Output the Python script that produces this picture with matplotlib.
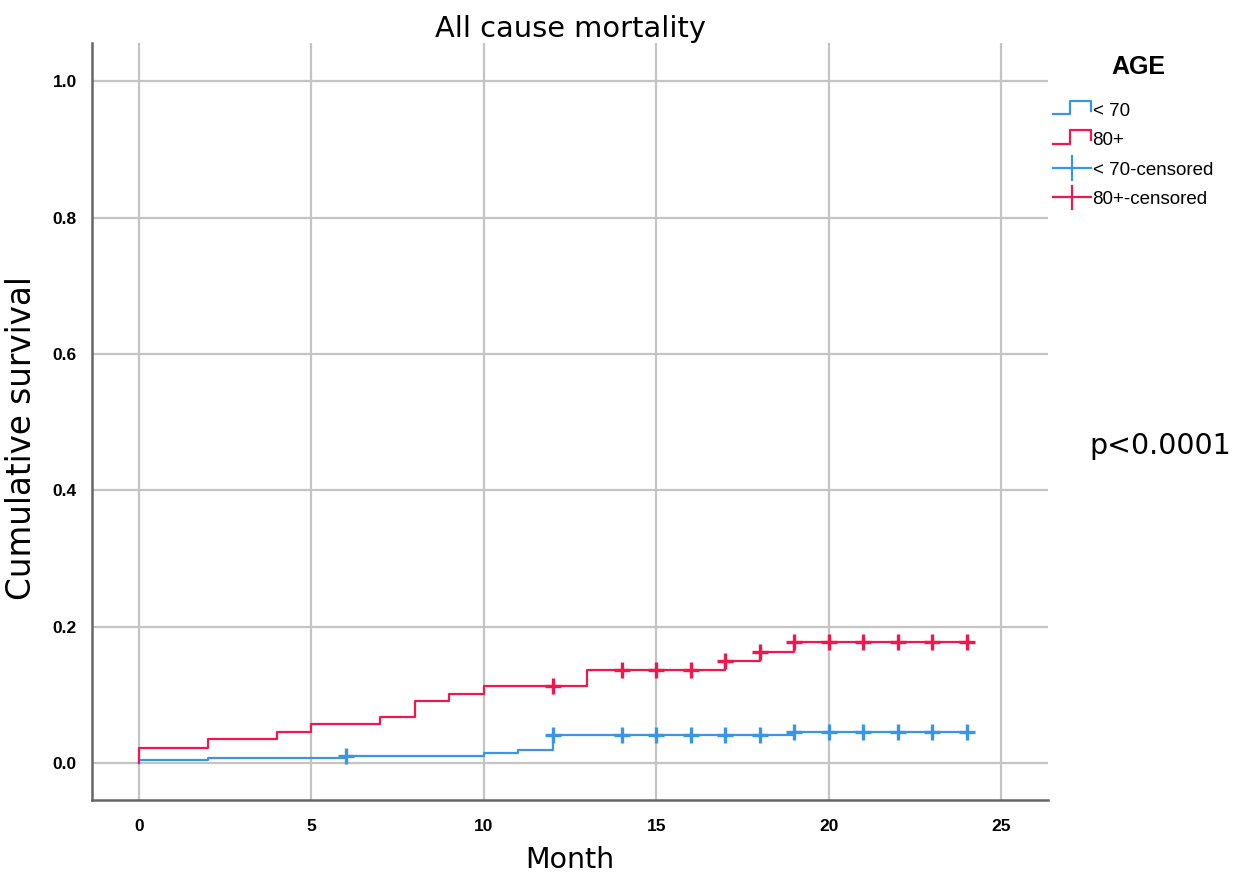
import numpy as np
import matplotlib
matplotlib.use("Agg")
import matplotlib.pyplot as plt
from matplotlib.legend_handler import HandlerBase
from matplotlib.lines import Line2D

# step curves: event times and cumulative values after each step
red_times = [0, 0, 2, 4, 5, 7, 8, 9, 10, 13, 17, 18, 19, 24]
red_vals = [0.0, 0.023, 0.035, 0.046, 0.057, 0.068, 0.091, 0.101, 0.113, 0.137, 0.150, 0.163, 0.177, 0.177]
blue_times = [0, 0, 2, 6, 10, 11, 12, 19, 24]
blue_vals = [0.0, 0.004, 0.008, 0.011, 0.015, 0.019, 0.042, 0.046, 0.046]

# censored marks
red_cens_t = [12, 14, 15, 16, 17, 18, 19, 20, 21, 22, 23, 24]
red_cens_v = [0.113, 0.137, 0.137, 0.137, 0.150, 0.163, 0.177, 0.177, 0.177, 0.177, 0.177, 0.177]
blue_cens_t = [6, 12, 14, 15, 16, 17, 18, 19, 20, 21, 22, 23, 24]
blue_cens_v = [0.011, 0.042, 0.042, 0.042, 0.042, 0.042, 0.042, 0.046, 0.046, 0.046, 0.046, 0.046, 0.046]

legend_labels = ["< 70", "80+", "< 70-censored", "80+-censored"]

RED = "#f0174d"
BLUE = "#3a95e6"

tick_font = "Liberation Sans Narrow"
try:
    from matplotlib import font_manager
    font_manager.findfont(tick_font, fallback_to_default=False)
except Exception:
    tick_font = "Liberation Sans"


class StepHandler(HandlerBase):
    def create_artists(self, legend, orig_handle, xdescent, ydescent,
                       width, height, fontsize, trans):
        x = np.array([0, 0.45, 0.45, 1.0, 1.0]) * width - xdescent
        y = np.array([0.1, 0.1, 0.9, 0.9, 0.3]) * height * 1.3 - ydescent
        ln = Line2D(x, y, color=orig_handle.get_color(), lw=1.6, transform=trans)
        return [ln]


class CrossHandler(HandlerBase):
    def create_artists(self, legend, orig_handle, xdescent, ydescent,
                       width, height, fontsize, trans):
        c = orig_handle.get_color()
        h = Line2D([-xdescent, width - xdescent], [height / 2 - ydescent] * 2,
                   color=c, lw=1.6, transform=trans)
        v = Line2D([width / 2 - xdescent] * 2, [-0.4 * height - ydescent, 1.4 * height - ydescent],
                   color=c, lw=1.6, transform=trans)
        return [h, v]


fig = plt.figure(figsize=(12.44, 8.73), dpi=100)
ax = fig.add_axes([0.074, 0.0836, 0.7684, 0.8671])

ax.step(blue_times, blue_vals, where="post", color=BLUE, lw=1.6)
ax.step(red_times, red_vals, where="post", color=RED, lw=1.6)
ax.plot(blue_cens_t, blue_cens_v, ls="none", marker="+", ms=12, mew=2.4, color=BLUE)
ax.plot(red_cens_t, red_cens_v, ls="none", marker="+", ms=12, mew=2.4, color=RED)

ax.set_xlim(-1.36, 26.36)
ax.set_ylim(-0.054, 1.056)
ax.set_xticks([0, 5, 10, 15, 20, 25])
ax.set_yticks([0.0, 0.2, 0.4, 0.6, 0.8, 1.0])
ax.set_yticklabels(["0.0", "0.2", "0.4", "0.6", "0.8", "1.0"])
ax.grid(True, color="#c4c4c4", lw=1.6)
ax.set_axisbelow(True)
ax.tick_params(axis="x", length=0, pad=14)
ax.tick_params(axis="y", length=0, pad=11)
for lab in ax.get_xticklabels() + ax.get_yticklabels():
    lab.set_fontfamily(tick_font)
    lab.set_fontweight("bold")
    lab.set_fontsize(12.5)

for s in ["top", "right"]:
    ax.spines[s].set_visible(False)
for s in ["left", "bottom"]:
    ax.spines[s].set_color("#666666")
    ax.spines[s].set_linewidth(1.8)

ax.set_title("All cause mortality", fontsize=20.8, pad=4)
ax.set_xlabel("Month", fontsize=20.5, labelpad=8)
ax.set_ylabel("Cumulative survival", fontsize=23.5)
ax.yaxis.set_label_coords(-0.057, 0.478)

h_blue = Line2D([], [], color=BLUE)
h_red = Line2D([], [], color=RED)
h_blue_c = Line2D([], [], color=BLUE, marker="+")
h_red_c = Line2D([], [], color=RED, marker="+")
leg = fig.legend([h_blue, h_red, h_blue_c, h_red_c], legend_labels,
                 handler_map={h_blue: StepHandler(), h_red: StepHandler(),
                              h_blue_c: CrossHandler(), h_red_c: CrossHandler()},
                 loc="upper left", bbox_to_anchor=(0.833, 0.9015), frameon=False,
                 handlelength=2.0, handletextpad=0.1, labelspacing=0.65,
                 prop={"family": tick_font, "size": 13.5})
fig.text(0.915, 0.923, "AGE", fontsize=18, fontweight="bold", family=tick_font,
         ha="center", va="center")

fig.text(0.876, 0.48, "p<0.0001", fontsize=20.5)

fig.savefig("out.png", dpi=100)
